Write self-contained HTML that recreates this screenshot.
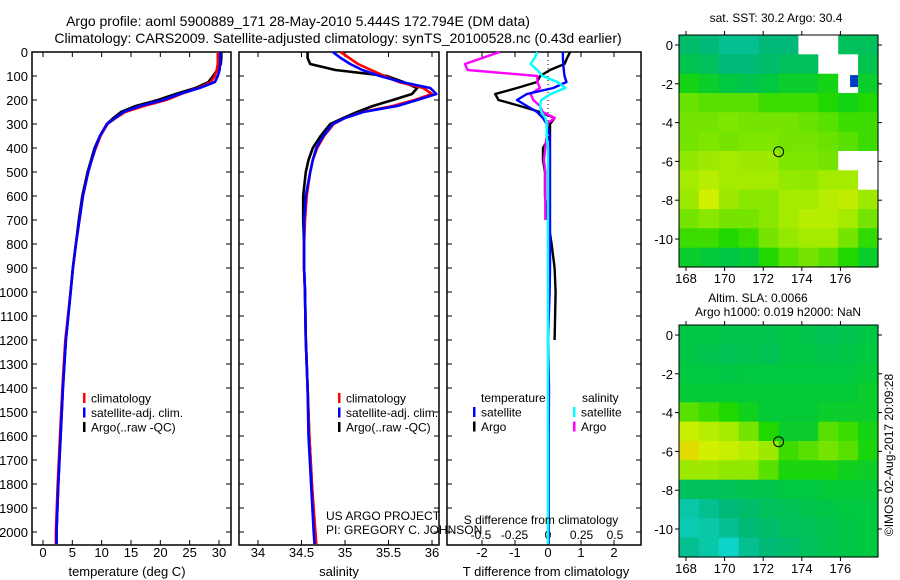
<!DOCTYPE html>
<html><head><meta charset="utf-8">
<style>
html,body{margin:0;padding:0;background:#fff;}
svg{display:block;font-family:"Liberation Sans",sans-serif;}
text{fill:#000;}
</style></head>
<body>
<svg id="fig" width="900" height="580" viewBox="0 0 900 580" xmlns="http://www.w3.org/2000/svg">
<text x="298" y="26" font-size="14" text-anchor="middle">Argo profile: aoml 5900889_171 28-May-2010 5.444S 172.794E (DM data)</text>
<text x="338" y="43" font-size="14" text-anchor="middle">Climatology: CARS2009. Satellite-adjusted climatology: synTS_20100528.nc (0.43d earlier)</text>
<g id="p1"></g>
<g id="p2"></g>
<g id="p3"></g>
<g id="m1"></g>
<g id="m2"></g>
<text x="776" y="22" font-size="12" text-anchor="middle">sat. SST: 30.2 Argo: 30.4</text>
<text x="758" y="302" font-size="12" text-anchor="middle">Altim. SLA: 0.0066</text>
<text x="778" y="316" font-size="12" text-anchor="middle">Argo h1000: 0.019 h2000: NaN</text>
<text x="0" y="0" font-size="12" text-anchor="middle" transform="translate(893,455) rotate(-90)">©IMOS 02-Aug-2017 20:09:28</text>
<text x="326" y="520" font-size="12">US ARGO PROJECT</text>
<text x="326" y="534" font-size="12">PI: GREGORY C. JOHNSON</text>
</svg>
<script>
// ---------- data ----------
const depths = [0,25,50,75,100,125,150,175,200,225,250,275,300,350,400,450,500,600,700,800,900,1000,1200,1400,1600,1800,2000,2050];
const tempClim = [29.8,29.8,29.8,29.6,29.3,28.6,26.5,23.5,21.0,17.2,14.0,12.4,11.0,9.8,9.0,8.3,7.7,6.8,6.2,5.6,5.1,4.7,3.8,3.3,2.9,2.5,2.2,2.2];
const tempSat  = [30.2,30.2,30.2,30.1,29.8,29.3,26.7,23.3,20.5,16.5,13.7,12.3,10.9,9.7,8.9,8.3,7.7,6.8,6.2,5.6,5.1,4.7,3.9,3.4,3.0,2.6,2.3,2.3];
const tempArgo = [30.4,30.4,30.3,29.7,29.0,28.2,26.0,22.6,19.6,15.8,13.3,12.0,10.9,9.7,8.8,8.2,7.6,6.7,6.1,5.6,5.1,4.7,3.9,3.4,3.0,2.6,2.3,2.3];
const salClim = [34.95,35.05,35.15,35.3,35.45,35.62,35.9,36.0,35.8,35.55,35.2,35.0,34.87,34.76,34.68,34.63,34.6,34.56,34.54,34.53,34.53,34.54,34.55,34.57,34.59,34.62,34.66,34.67];
const salSat  = [34.86,34.95,35.06,35.2,35.4,35.65,35.98,36.05,35.83,35.6,35.21,35.0,34.86,34.75,34.67,34.63,34.6,34.55,34.53,34.53,34.53,34.54,34.55,34.57,34.58,34.61,34.64,34.65];
const salArgo = [34.57,34.57,34.6,34.89,35.48,35.67,35.83,35.77,35.55,35.32,35.14,34.98,34.83,34.72,34.63,34.58,34.55,34.52,34.52,34.53,34.53,34.54,34.55,34.57,34.59,34.62,34.65,34.66];
const dT_sat  = [0.45,0.45,0.46,0.48,0.5,0.56,0.16,-0.64,-0.94,-0.64,-0.33,-0.15,-0.04,0.06,0.06,0.06,0.06,0.06,0.06,0.06,0.06,0.05,0.0,0.03,0.02,0.02,0.02,0.02];
const dT_argo = [0.67,0.58,0.5,0.06,-0.24,-0.33,-0.94,-1.6,-1.5,-0.85,-0.24,0.2,0.06,0.06,-0.15,-0.15,-0.09,-0.09,0.0,0.11,0.2,0.23,0.2];
const dS_sat  = [-0.08,-0.1,-0.13,-0.08,-0.04,0.07,0.13,0.02,-0.05,-0.06,-0.05,-0.02,-0.01,-0.01,0,0,0,0,0,0,0,0,0,0,0,0,0,0];
const dS_argo = [-0.36,-0.49,-0.62,-0.6,-0.08,-0.08,-0.06,-0.13,-0.11,-0.06,-0.04,0.05,-0.01,-0.01,-0.02,-0.03,-0.02,-0.02,-0.02];
const depthTicks = [0,100,200,300,400,500,600,700,800,900,1000,1100,1200,1300,1400,1500,1600,1700,1800,1900,2000];
const tempTicks = [0,5,10,15,20,25,30];
const salTicks = [34,34.5,35,35.5,36];
const dTTicks = [-2,-1,0,1,2];
const dSTicks = [-0.5,-0.25,0,0.25,0.5];
const lonTicks = [168,170,172,174,176];
const latTicks = [0,-2,-4,-6,-8,-10];
const argoLon = 172.8, argoLat = -5.5;
const sstGrid = [
 [.25,.2,.15,.15,.2,.2,null,null,.3,.3],
 [.35,.3,.2,.2,.25,.3,.3,null,null,.35],
 [.5,.45,.4,.35,.4,.45,.45,.5,null,.45],
 [.68,.65,.65,.65,.6,.6,.6,.55,.5,.55],
 [.7,.7,.72,.7,.7,.7,.68,.65,.6,.6],
 [.7,.72,.7,.72,.72,.7,.7,.68,.65,.6],
 [.75,.78,.8,.78,.78,.72,.72,.7,null,null],
 [.8,.84,.8,.8,.8,.76,.75,.8,.8,null],
 [.78,.9,.78,.74,.74,.8,.8,.84,.86,.78],
 [.7,.74,.7,.7,.74,.8,.84,.84,.8,.7],
 [.6,.6,.55,.6,.7,.76,.8,.8,.7,.58],
 [.45,.42,.38,.42,.55,.65,.7,.65,.55,.45]];
const slaGrid = [
 [.38,.38,.35,.35,.35,.38,.35,.33,.35,.38],
 [.38,.35,.33,.35,.33,.38,.38,.35,.38,.4],
 [.4,.4,.38,.4,.4,.4,.4,.4,.4,.42],
 [.42,.42,.42,.42,.42,.42,.42,.42,.42,.45],
 [.65,.6,.55,.48,.42,.42,.42,.45,.45,.45],
 [.88,.84,.8,.7,.55,.45,.45,.65,.6,.5],
 [.95,.9,.88,.84,.78,.6,.65,.7,.65,.52],
 [.78,.78,.75,.75,.65,.52,.52,.52,.48,.46],
 [.3,.3,.32,.35,.35,.4,.4,.42,.42,.42],
 [.1,.15,.2,.25,.3,.32,.35,.38,.4,.4],
 [.08,.1,.15,.2,.25,.3,.32,.35,.38,.4],
 [.15,.1,.03,.15,.2,.25,.3,.35,.38,.4]];

// ---------- helpers ----------
const NS = "http://www.w3.org/2000/svg";
function mk(parent, tag, attrs, txt){const e=document.createElementNS(NS,tag);for(const k in attrs)e.setAttribute(k,attrs[k]);if(txt!==undefined)e.textContent=txt;parent.appendChild(e);return e;}
const Y0=52, PX100=24;
const yD = d => Y0 + d*PX100/100;
const yBottom = 545;

function frame(g,x0,x1,y0,y1){const r=mk(g,'rect',{x:x0,y:y0,width:x1-x0,height:y1-y0,fill:'none',stroke:'#000','stroke-width':1.5});

}
function depthTicksDraw(g,x0,x1,labels){
 depthTicks.forEach(d=>{const y=yD(d);
  mk(g,'line',{x1:x0,x2:x0+5,y1:y,y2:y,stroke:'#000'});
  mk(g,'line',{x1:x1-5,x2:x1,y1:y,y2:y,stroke:'#000'});
  if(labels){const t=mk(g,'text',{x:x0-4,y:y+5,'font-size':13,'text-anchor':'end'},String(d));
   
   }
 });}
function xTicks(g,ticks,fx,y0,y1,labelY,fmt){
 ticks.forEach(v=>{const x=fx(v);
  mk(g,'line',{x1:x,x2:x,y1:y1-5,y2:y1,stroke:'#000'});
  mk(g,'line',{x1:x,x2:x,y1:y0,y2:y0+5,stroke:'#000'});
  const t=mk(g,'text',{x:x,y:labelY,'font-size':13,'text-anchor':'middle'},fmt?fmt(v):String(v));
  
  
 });}
function line(g,xs,fx,color,name,w){
 const pts=xs.map((v,i)=>fx(v).toFixed(1)+','+yD(depths[i]).toFixed(1)).join(' ');
 const p=mk(g,'polyline',{points:pts,fill:'none',stroke:color,'stroke-width':w||2.6,'stroke-linejoin':'round'});
 
 }
function legend(g,x,y,items){
 items.forEach((it,i)=>{const yy=y+i*14.5;
  mk(g,'rect',{x:x,y:yy-5,width:2.5,height:10,fill:it[0]});
  const t=mk(g,'text',{x:x+8,y:yy+4.5,'font-size':12},it[1]);
  
  
 });}

// ---------- panel 1: temperature ----------
const p1=document.getElementById('p1');
const fT = v => 43 + v*(219-43)/30;
frame(p1,32,231,Y0,yBottom);
depthTicksDraw(p1,32,231,true);
xTicks(p1,tempTicks,fT,Y0,yBottom,557);
line(p1,tempArgo,fT,'#000','temp-argo-line');
line(p1,tempClim,fT,'#f00','temp-climatology-line');
line(p1,tempSat,fT,'#00f','temp-satellite-line');
legend(p1,83,398,[['#f00','climatology'],['#00f','satellite-adj. clim.'],['#000','Argo(..raw -QC)']]);
mk(p1,'text',{x:127,y:576,'font-size':13,'text-anchor':'middle'},'temperature (deg C)');

// ---------- panel 2: salinity ----------
const p2=document.getElementById('p2');
const fS = v => 258 + (v-34)*(432-258)/2;
frame(p2,239,439,Y0,yBottom);
depthTicksDraw(p2,239,439,false);
xTicks(p2,salTicks,fS,Y0,yBottom,557);
line(p2,salArgo,fS,'#000','sal-argo-line');
line(p2,salClim,fS,'#f00','sal-climatology-line');
line(p2,salSat,fS,'#00f','sal-satellite-line');
legend(p2,338,398,[['#f00','climatology'],['#00f','satellite-adj. clim.'],['#000','Argo(..raw -QC)']]);
mk(p2,'text',{x:339,y:576,'font-size':13,'text-anchor':'middle'},'salinity');

// ---------- panel 3: differences ----------
const p3=document.getElementById('p3');
const fdT = v => 548 + v*33;
const fdS = v => 548 + v*134;
frame(p3,447,641,Y0,yBottom);
depthTicksDraw(p3,447,641,false);
xTicks(p3,dTTicks,fdT,Y0,yBottom,557);
dSTicks.forEach(v=>{const t=mk(p3,'text',{x:fdS(v),y:539,'font-size':12,'text-anchor':'middle'},String(v));
 
 });
mk(p3,'line',{x1:548,x2:548,y1:Y0,y2:yD(400),stroke:'#000','stroke-dasharray':'1,3'});
function dline(arr,f,color,name){const pts=arr.map((v,i)=>f(v).toFixed(1)+','+yD(depths[i]).toFixed(1)).join(' ');
 const p=mk(p3,'polyline',{points:pts,fill:'none',stroke:color,'stroke-width':2.4,'stroke-linejoin':'round'});
 
 }
dline(dT_argo,fdT,'#000','t-diff-argo-line');
dline(dS_argo,fdS,'#f0f','s-diff-argo-line');
dline(dT_sat,fdT,'#00f','t-diff-satellite-line');
dline(dS_sat,fdS,'#0ff','s-diff-satellite-line');
mk(p3,'text',{x:481,y:402,'font-size':12},'temperature');
mk(p3,'text',{x:582,y:402,'font-size':12},'salinity');
legend(p3,473,412,[['#00f','satellite'],['#000','Argo']]);
legend(p3,573,412,[['#0ff','satellite'],['#f0f','Argo']]);
mk(p3,'text',{x:541,y:524,'font-size':12,'text-anchor':'middle'},'S difference from climatology');
mk(p3,'text',{x:546,y:576,'font-size':13,'text-anchor':'middle'},'T difference from climatology');

// ---------- maps ----------
const cmapStops=[[0,[16,216,216]],[0.2,[0,184,120]],[0.4,[0,200,64]],[0.55,[32,216,0]],[0.75,[144,232,0]],[0.9,[208,240,0]],[1,[240,200,0]]];
function cmap(v){for(let i=1;i<cmapStops.length;i++){if(v<=cmapStops[i][0]){const a=cmapStops[i-1],b=cmapStops[i];const t=(v-a[0])/(b[0]-a[0]);
 const c=a[1].map((x,k)=>Math.round(x+(b[1][k]-x)*t));return 'rgb('+c.join(',')+')';}}return 'rgb(240,200,0)';}
function drawMap(id,grid,y0,y1,lat0y,extra){
 const g=document.getElementById(id);
 const x0=679,x1=878;
 const fLon = v => 686 + (v-168)*19.3;
 const fLat = v => lat0y - v*19.4;
 const lonMin=168+(x0-686)/19.3, latMax=(lat0y-y0)/19.4;
 const dLon=((x1-x0)/19.3)/grid[0].length, dLat=((y1-y0)/19.4)/grid.length;
 grid.forEach((row,r)=>row.forEach((v,c)=>{
  const xa=fLon(lonMin+c*dLon), xb=fLon(lonMin+(c+1)*dLon);
  const ya=fLat(latMax-r*dLat), yb=fLat(latMax-(r+1)*dLat);
  const cell=mk(g,'rect',{x:xa.toFixed(1),y:ya.toFixed(1),width:(xb-xa+0.6).toFixed(1),height:(yb-ya+0.6).toFixed(1),fill:v===null?'#fff':cmap(v)});
  
  
 }));
 if(extra)extra(g,fLon,fLat);
 const c=mk(g,'circle',{cx:fLon(argoLon),cy:fLat(argoLat),r:5,fill:'none',stroke:'#000','stroke-width':1});
 
 
 mk(g,'rect',{x:x0,y:y0,width:x1-x0,height:y1-y0,fill:'none',stroke:'#000','stroke-width':1});
 lonTicks.forEach(v=>{const x=fLon(v);mk(g,'line',{x1:x,x2:x,y1:y0-4,y2:y0,stroke:'#000'});mk(g,'line',{x1:x,x2:x,y1:y1,y2:y1+4,stroke:'#000'});
  const t=mk(g,'text',{x:x,y:y1+16,'font-size':13,'text-anchor':'middle'},String(v));
  
  });
 latTicks.forEach(v=>{const y=fLat(v);mk(g,'line',{x1:x0-4,x2:x0,y1:y,y2:y,stroke:'#000'});mk(g,'line',{x1:x1,x2:x1+4,y1:y,y2:y,stroke:'#000'});
  const t=mk(g,'text',{x:x0-6,y:y+5,'font-size':13,'text-anchor':'end'},String(v));
  
  });
}
drawMap('m1',sstGrid,35,267,45,(g,fLon,fLat)=>{
 mk(g,'rect',{x:fLon(176.5),y:fLat(-1.55),width:8,height:12,fill:'#0040c0'});
});
drawMap('m2',slaGrid,325,557,335);
</script>
</body></html>
